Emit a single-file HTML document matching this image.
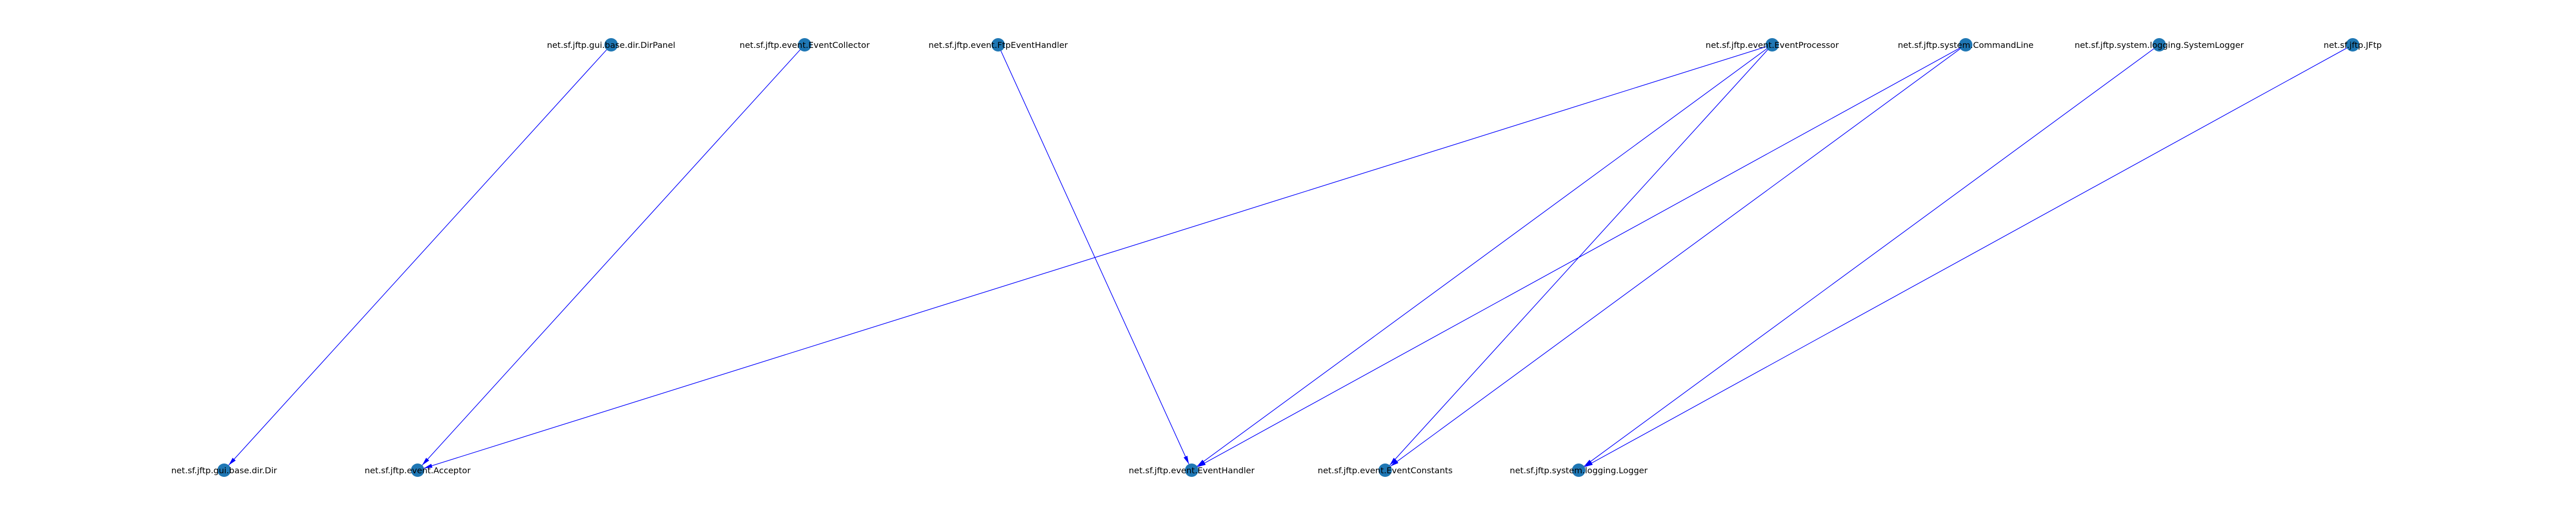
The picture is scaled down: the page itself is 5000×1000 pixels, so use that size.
<!DOCTYPE html>
<html><head><meta charset="utf-8"><style>
html,body{margin:0;padding:0;background:#fff;}
svg{display:block;}
text{font-family:"DejaVu Sans","Liberation Sans",sans-serif;font-size:16.3px;fill:#000;}
</style></head><body>
<svg id="g" width="5000" height="1000" viewBox="0 0 5000 1000"></svg>
<script>
const nodeNames = ["net.sf.jftp.gui.base.dir.Dir","net.sf.jftp.event.Acceptor","net.sf.jftp.gui.base.dir.DirPanel","net.sf.jftp.event.EventCollector","net.sf.jftp.event.FtpEventHandler","net.sf.jftp.event.EventHandler","net.sf.jftp.event.EventConstants","net.sf.jftp.system.logging.Logger","net.sf.jftp.event.EventProcessor","net.sf.jftp.system.CommandLine","net.sf.jftp.system.logging.SystemLogger","net.sf.jftp.JFtp"];
const nodeSlot = [0,1,2,3,4,5,6,7,8,9,10,11];
const nodeRow = [0,0,1,1,1,0,0,0,1,1,1,1];
const edgeFrom = [2,3,4,8,8,8,9,9,10,11];
const edgeTo = [0,1,5,1,5,6,5,6,7,7];
const svg=document.getElementById('g');
const NS='http://www.w3.org/2000/svg';
function xs(slot){return 435+slot*375.6;}
function ys(row){return row===1?87:913;}
const defs=document.createElementNS(NS,'defs');
defs.innerHTML='<marker id="ah" markerWidth="16" markerHeight="8" refX="16" refY="4" orient="auto" markerUnits="userSpaceOnUse"><path d="M0,0 L16,4 L0,8 Z" fill="#0000ff"/></marker>';
svg.appendChild(defs);
const R=13;
for(let i=0;i<edgeFrom.length;i++){
  const a=edgeFrom[i],b=edgeTo[i];
  const x1=xs(nodeSlot[a]),y1=ys(nodeRow[a]),x2=xs(nodeSlot[b]),y2=ys(nodeRow[b]);
  const d=Math.hypot(x2-x1,y2-y1);
  const l=document.createElementNS(NS,'line');
  
  
  l.setAttribute('x1',x1);l.setAttribute('y1',y1);
  l.setAttribute('x2',x2-(x2-x1)*R/d);l.setAttribute('y2',y2-(y2-y1)*R/d);
  l.setAttribute('stroke','#0000ff');l.setAttribute('stroke-width','1.3');
  l.setAttribute('marker-end','url(#ah)');
  svg.appendChild(l);
}
for(let i=0;i<nodeNames.length;i++){
  const x=xs(nodeSlot[i]),y=ys(nodeRow[i]);
  const c=document.createElementNS(NS,'circle');
  
  
  c.setAttribute('cx',x);c.setAttribute('cy',y);c.setAttribute('r',R);
  c.setAttribute('fill','#1f77b4');
  svg.appendChild(c);
  const t=document.createElementNS(NS,'text');
  
  
  t.setAttribute('x',x);t.setAttribute('y',y+6);
  t.setAttribute('text-anchor','middle');
  t.textContent=nodeNames[i];
  svg.appendChild(t);
}
</script>
</body></html>
